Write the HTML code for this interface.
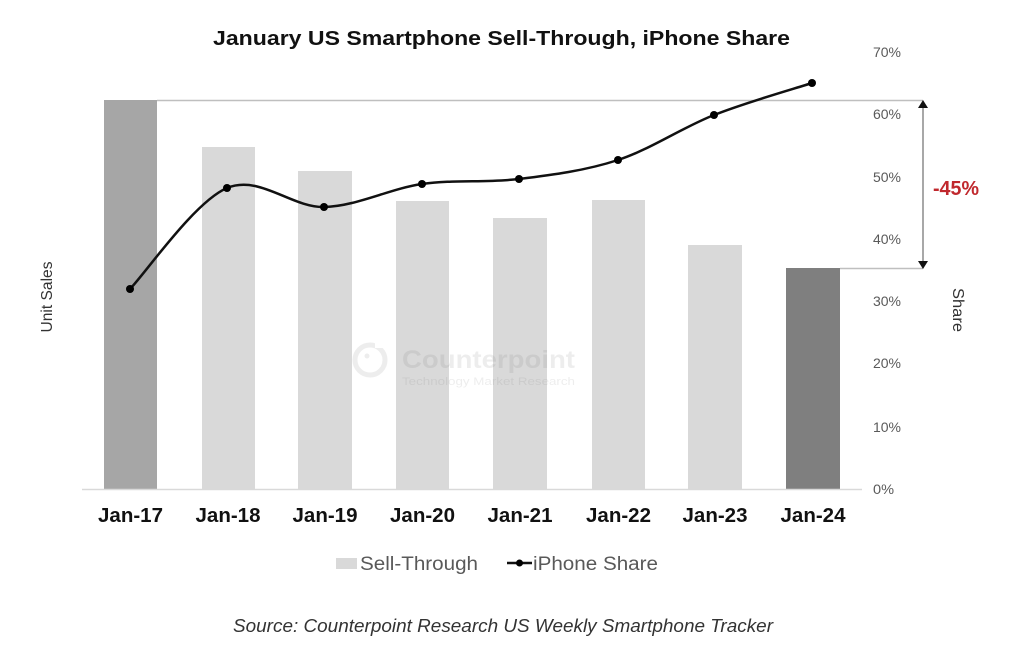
<!DOCTYPE html>
<html>
<head>
<meta charset="utf-8">
<style>
  html,body{margin:0;padding:0;background:#fff;}
  svg{display:block;}
  text{font-family:"Liberation Sans",Arial,sans-serif;}
</style>
</head>
<body>
<svg width="1024" height="651" viewBox="0 0 1024 651" xmlns="http://www.w3.org/2000/svg">
  <rect x="0" y="0" width="1024" height="651" fill="#ffffff"/>

  <!-- Title -->
  <text x="213" y="45" font-size="20" font-weight="bold" fill="#111" textLength="577" lengthAdjust="spacingAndGlyphs">January US Smartphone Sell-Through, iPhone Share</text>

  <!-- Bars -->
  <rect x="104" y="100" width="53" height="389" fill="#a6a6a6"/>
  <rect x="202" y="147" width="53" height="342" fill="#d9d9d9"/>
  <rect x="298" y="171" width="54" height="318" fill="#d9d9d9"/>
  <rect x="396" y="201" width="53" height="288" fill="#d9d9d9"/>
  <rect x="493" y="218" width="54" height="271" fill="#d9d9d9"/>
  <rect x="592" y="200" width="53" height="289" fill="#d9d9d9"/>
  <rect x="688" y="245" width="54" height="244" fill="#d9d9d9"/>
  <rect x="786" y="268" width="54" height="221" fill="#7f7f7f"/>

  <!-- Baseline -->
  <line x1="82" y1="489.5" x2="862" y2="489.5" stroke="#d9d9d9" stroke-width="1.5"/>

  <!-- Watermark -->
  <g opacity="0.1">
    <circle cx="370" cy="360" r="15" fill="none" stroke="#555" stroke-width="5"/>
    <circle cx="367" cy="356" r="2.5" fill="#555"/>
    <rect x="375" y="340" width="10" height="8" fill="#fff"/>
    <text x="402" y="368" font-size="25" font-weight="bold" fill="#555" textLength="173" lengthAdjust="spacingAndGlyphs">Counterpoint</text>
    <text x="402" y="385" font-size="11" fill="#555" textLength="173" lengthAdjust="spacingAndGlyphs">Technology Market Research</text>
  </g>

  <!-- Reference lines & arrow -->
  <line x1="157" y1="100.5" x2="923" y2="100.5" stroke="#bfbfbf" stroke-width="1.5"/>
  <line x1="840" y1="268.5" x2="923" y2="268.5" stroke="#bfbfbf" stroke-width="1.5"/>
  <line x1="923" y1="104" x2="923" y2="264" stroke="#7a7a7a" stroke-width="1.3"/>
  <polygon points="918,108 928,108 923,100" fill="#111"/>
  <polygon points="918,261 928,261 923,269" fill="#111"/>
  <text x="933" y="195" font-size="20" font-weight="bold" fill="#c0282d" textLength="46" lengthAdjust="spacingAndGlyphs">-45%</text>

  <!-- Right axis labels -->
  <g font-size="14" fill="#595959">
    <text x="873" y="57" textLength="28" lengthAdjust="spacingAndGlyphs">70%</text>
    <text x="873" y="119" textLength="28" lengthAdjust="spacingAndGlyphs">60%</text>
    <text x="873" y="182" textLength="28" lengthAdjust="spacingAndGlyphs">50%</text>
    <text x="873" y="244" textLength="28" lengthAdjust="spacingAndGlyphs">40%</text>
    <text x="873" y="306" textLength="28" lengthAdjust="spacingAndGlyphs">30%</text>
    <text x="873" y="368" textLength="28" lengthAdjust="spacingAndGlyphs">20%</text>
    <text x="873" y="432" textLength="28" lengthAdjust="spacingAndGlyphs">10%</text>
    <text x="873" y="494" textLength="21" lengthAdjust="spacingAndGlyphs">0%</text>
  </g>

  <!-- Axis titles -->
  <text transform="translate(52,297) rotate(-90)" text-anchor="middle" font-size="15.5" fill="#333" textLength="71" lengthAdjust="spacingAndGlyphs">Unit Sales</text>
  <text transform="translate(953,310) rotate(90)" text-anchor="middle" font-size="15.5" fill="#333" textLength="44" lengthAdjust="spacingAndGlyphs">Share</text>

  <!-- X labels -->
  <g font-size="20" font-weight="bold" fill="#111" text-anchor="middle">
    <text x="130.5" y="522" textLength="65" lengthAdjust="spacingAndGlyphs">Jan-17</text>
    <text x="228" y="522" textLength="65" lengthAdjust="spacingAndGlyphs">Jan-18</text>
    <text x="325" y="522" textLength="65" lengthAdjust="spacingAndGlyphs">Jan-19</text>
    <text x="422.5" y="522" textLength="65" lengthAdjust="spacingAndGlyphs">Jan-20</text>
    <text x="520" y="522" textLength="65" lengthAdjust="spacingAndGlyphs">Jan-21</text>
    <text x="618.5" y="522" textLength="65" lengthAdjust="spacingAndGlyphs">Jan-22</text>
    <text x="715" y="522" textLength="65" lengthAdjust="spacingAndGlyphs">Jan-23</text>
    <text x="813" y="522" textLength="65" lengthAdjust="spacingAndGlyphs">Jan-24</text>
  </g>

  <!-- iPhone share line -->
  <path d="M130,289 C146.2,272.2 194.7,201.7 227,188 C259.3,174.3 291.5,207.7 324,207 C356.5,206.3 389.5,188.7 422,184 C454.5,179.3 486.3,183 519,179 C551.7,175 585.5,170.7 618,160 C650.5,149.3 681.7,127.8 714,115 C746.3,102.2 795.7,88.3 812,83"
        fill="none" stroke="#111" stroke-width="2.5" stroke-linejoin="round" stroke-linecap="round"/>
  <g fill="#000">
    <circle cx="130" cy="289" r="4"/>
    <circle cx="227" cy="188" r="4"/>
    <circle cx="324" cy="207" r="4"/>
    <circle cx="422" cy="184" r="4"/>
    <circle cx="519" cy="179" r="4"/>
    <circle cx="618" cy="160" r="4"/>
    <circle cx="714" cy="115" r="4"/>
    <circle cx="812" cy="83" r="4"/>
  </g>

  <!-- Legend -->
  <rect x="336" y="558" width="21" height="11" fill="#d9d9d9"/>
  <text x="360" y="570" font-size="19" fill="#595959" textLength="118" lengthAdjust="spacingAndGlyphs">Sell-Through</text>
  <line x1="507" y1="563" x2="532" y2="563" stroke="#111" stroke-width="2.5"/>
  <circle cx="519.5" cy="563" r="3.5" fill="#000"/>
  <text x="533" y="570" font-size="19" fill="#595959" textLength="125" lengthAdjust="spacingAndGlyphs">iPhone Share</text>

  <!-- Source -->
  <text x="233" y="632" font-size="18" font-style="italic" fill="#333" textLength="540" lengthAdjust="spacingAndGlyphs">Source: Counterpoint Research US Weekly Smartphone Tracker</text>
</svg>
</body>
</html>
